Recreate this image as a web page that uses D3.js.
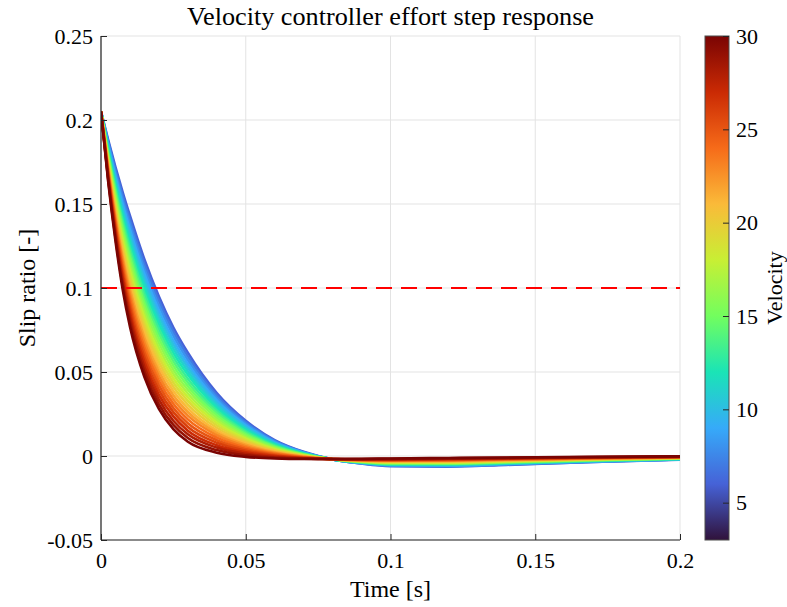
<!DOCTYPE html>
<html>
<head>
<meta charset="utf-8">
<script src="https://cdn.jsdelivr.net/npm/d3@7"></script>
<style>
  html, body { margin: 0; padding: 0; background: #ffffff; }
  svg { display: block; }
  text { font-family: "Liberation Serif", "Times New Roman", serif; fill: #000; }
</style>
</head>
<body>
<svg id="chart" width="787" height="607"></svg>
<script>
// ---------------- data ----------------
const title = "Velocity controller effort step response";
const xLabel = "Time [s]";
const yLabel = "Slip ratio [-]";
const cLabel = "Velocity";

const xTicks = [0, 0.05, 0.1, 0.15, 0.2];
const xTickLabels = ["0", "0.05", "0.1", "0.15", "0.2"];
const yTicks = [-0.05, 0, 0.05, 0.1, 0.15, 0.2, 0.25];
const yTickLabels = ["-0.05", "0", "0.05", "0.1", "0.15", "0.2", "0.25"];
const cTicks = [5, 10, 15, 20, 25, 30];
const cTickLabels = ["5", "10", "15", "20", "25", "30"];

const thresholdSlip = 0.1;
const colorRange = [3, 30];

// time samples [s]
const time = [0, 0.0025, 0.005, 0.0075, 0.01, 0.015, 0.02, 0.025, 0.03, 0.04,
              0.05, 0.06, 0.07, 0.08, 0.09, 0.1, 0.12, 0.14, 0.17, 0.2];

// velocities of each response curve (drawn in this order)
const velocities = [6, 7, 8, 9, 10, 11, 12, 13, 14, 15, 16, 17, 18, 19, 20,
                    21, 22, 23, 24, 25, 26, 27, 28, 29, 30];

// slip ratio response, one row per velocity (same order as velocities)
const slip = [
  [0.205,0.188,0.172,0.157,0.143,0.117,0.095,0.0765,0.0615,0.0375,0.021,0.0095,0.0025,-0.002,-0.0045,-0.006,-0.0063,-0.0053,-0.0036,-0.0022],
  [0.205,0.187,0.1702,0.1546,0.1403,0.1141,0.0922,0.074,0.0593,0.036,0.0201,0.009,0.0023,-0.002,-0.0044,-0.0058,-0.0061,-0.0051,-0.0035,-0.0021],
  [0.205,0.1859,0.1683,0.1522,0.1375,0.1112,0.0894,0.0715,0.0571,0.0345,0.0192,0.0086,0.0021,-0.002,-0.0043,-0.0056,-0.0059,-0.0049,-0.0033,-0.002],
  [0.205,0.1849,0.1665,0.1498,0.1348,0.1083,0.0866,0.0689,0.0549,0.0331,0.0183,0.0081,0.002,-0.002,-0.0042,-0.0054,-0.0057,-0.0047,-0.0032,-0.002],
  [0.205,0.1838,0.1647,0.1473,0.132,0.1053,0.0838,0.0664,0.0527,0.0316,0.0174,0.0077,0.0018,-0.002,-0.004,-0.0053,-0.0055,-0.0046,-0.0031,-0.0019],
  [0.205,0.1828,0.1628,0.1449,0.1293,0.1024,0.081,0.0639,0.0505,0.0301,0.0165,0.0072,0.0016,-0.002,-0.0039,-0.0051,-0.0052,-0.0044,-0.003,-0.0018],
  [0.205,0.1818,0.161,0.1425,0.1265,0.0995,0.0783,0.0614,0.0483,0.0286,0.0156,0.0068,0.0014,-0.002,-0.0038,-0.0049,-0.005,-0.0042,-0.0028,-0.0017],
  [0.205,0.1807,0.1592,0.1401,0.1238,0.0966,0.0755,0.0589,0.046,0.0271,0.0147,0.0063,0.0012,-0.0019,-0.0037,-0.0047,-0.0048,-0.004,-0.0027,-0.0016],
  [0.205,0.1797,0.1573,0.1377,0.121,0.0937,0.0727,0.0563,0.0438,0.0257,0.0138,0.0058,0.0011,-0.0019,-0.0036,-0.0045,-0.0046,-0.0038,-0.0026,-0.0015],
  [0.205,0.1786,0.1555,0.1353,0.1183,0.0908,0.0699,0.0538,0.0416,0.0242,0.0129,0.0054,0.0009,-0.0019,-0.0035,-0.0043,-0.0044,-0.0036,-0.0024,-0.0015],
  [0.205,0.1776,0.1537,0.1328,0.1155,0.0878,0.0671,0.0513,0.0394,0.0227,0.012,0.0049,0.0007,-0.0019,-0.0033,-0.0041,-0.0042,-0.0035,-0.0023,-0.0014],
  [0.205,0.1765,0.1518,0.1304,0.1128,0.0849,0.0643,0.0488,0.0372,0.0212,0.0111,0.0045,0.0005,-0.0019,-0.0032,-0.0039,-0.004,-0.0033,-0.0022,-0.0013],
  [0.205,0.1755,0.15,0.128,0.11,0.082,0.0615,0.0463,0.035,0.0198,0.0103,0.004,0.0004,-0.0019,-0.0031,-0.0038,-0.0038,-0.0031,-0.0021,-0.0012],
  [0.205,0.1745,0.1482,0.1256,0.1073,0.0791,0.0587,0.0437,0.0328,0.0183,0.0094,0.0035,0.0002,-0.0019,-0.003,-0.0036,-0.0035,-0.0029,-0.0019,-0.0011],
  [0.205,0.1734,0.1463,0.1232,0.1045,0.0762,0.0559,0.0412,0.0306,0.0168,0.0085,0.0031,0.0,-0.0019,-0.0029,-0.0034,-0.0033,-0.0027,-0.0018,-0.001],
  [0.205,0.1724,0.1445,0.1208,0.1018,0.0733,0.0531,0.0387,0.0284,0.0153,0.0076,0.0026,-0.0002,-0.0019,-0.0028,-0.0032,-0.0031,-0.0025,-0.0017,-0.001],
  [0.205,0.1713,0.1427,0.1183,0.099,0.0703,0.0503,0.0362,0.0262,0.0138,0.0067,0.0022,-0.0004,-0.0019,-0.0026,-0.003,-0.0029,-0.0024,-0.0015,-0.0009],
  [0.205,0.1703,0.1408,0.1159,0.0963,0.0674,0.0475,0.0336,0.024,0.0124,0.0058,0.0017,-0.0005,-0.0019,-0.0025,-0.0028,-0.0027,-0.0022,-0.0014,-0.0008],
  [0.205,0.1693,0.139,0.1135,0.0935,0.0645,0.0448,0.0311,0.0218,0.0109,0.0049,0.0013,-0.0007,-0.0019,-0.0024,-0.0026,-0.0025,-0.002,-0.0013,-0.0007],
  [0.205,0.1682,0.1372,0.1111,0.0908,0.0616,0.042,0.0286,0.0195,0.0094,0.004,0.0008,-0.0009,-0.0018,-0.0023,-0.0024,-0.0023,-0.0018,-0.0011,-0.0006],
  [0.205,0.1672,0.1353,0.1087,0.088,0.0587,0.0392,0.0261,0.0173,0.0079,0.0031,0.0003,-0.0011,-0.0018,-0.0022,-0.0023,-0.0021,-0.0016,-0.001,-0.0005],
  [0.205,0.1661,0.1335,0.1063,0.0853,0.0558,0.0364,0.0236,0.0151,0.0064,0.0022,-0.0001,-0.0013,-0.0018,-0.0021,-0.0021,-0.0018,-0.0015,-0.0009,-0.0005],
  [0.205,0.1651,0.1317,0.1038,0.0825,0.0528,0.0336,0.021,0.0129,0.005,0.0013,-0.0006,-0.0014,-0.0018,-0.0019,-0.0019,-0.0016,-0.0013,-0.0008,-0.0004],
  [0.205,0.164,0.1298,0.1014,0.0798,0.0499,0.0308,0.0185,0.0107,0.0035,0.0004,-0.001,-0.0016,-0.0018,-0.0018,-0.0017,-0.0014,-0.0011,-0.0006,-0.0003],
  [0.205,0.163,0.128,0.099,0.077,0.047,0.028,0.016,0.0085,0.002,-0.0005,-0.0015,-0.0018,-0.0018,-0.0017,-0.0015,-0.0012,-0.0009,-0.0005,-0.0002]
];

// turbo colormap stops (evenly spaced 0..1)
const turboStops = ["#30123b", "#4662d7", "#36aaf9", "#1ae4b6", "#72fe5e",
                    "#c8ef34", "#faba39", "#f66b19", "#ca2a04", "#7a0403"];

// ---------------- layout ----------------
const plot = { left: 101, right: 680, top: 36, bottom: 540 };
const cbar = { left: 705, right: 729, top: 36, bottom: 540 };

const svg = d3.select("#chart");

const x = d3.scaleLinear().domain([0, 0.2]).range([plot.left, plot.right]);
const y = d3.scaleLinear().domain([-0.05, 0.25]).range([plot.bottom, plot.top]);

const norm = d3.scaleLinear().domain(colorRange).range([0, 1]).clamp(true);
const turbo = d3.scaleLinear()
  .domain(turboStops.map((_, i) => i / (turboStops.length - 1)))
  .range(turboStops)
  .interpolate(d3.interpolateRgb);
const color = v => turbo(norm(v));

// grid
const gridColor = "#e3e3e3";
const grid = svg.append("g");
grid.selectAll("line.gx").data(xTicks).join("line")
  .attr("x1", d => x(d)).attr("x2", d => x(d))
  .attr("y1", plot.top).attr("y2", plot.bottom)
  .attr("stroke", gridColor).attr("stroke-width", 1);
grid.selectAll("line.gy").data(yTicks).join("line")
  .attr("x1", plot.left).attr("x2", plot.right)
  .attr("y1", d => y(d)).attr("y2", d => y(d))
  .attr("stroke", gridColor).attr("stroke-width", 1);

// curves
const clipId = "plotclip";
svg.append("clipPath").attr("id", clipId).append("rect")
  .attr("x", plot.left).attr("y", plot.top)
  .attr("width", plot.right - plot.left).attr("height", plot.bottom - plot.top);

const line = d3.line()
  .x((d, i) => x(time[i]))
  .y(d => y(d))
  .curve(d3.curveMonotoneX);

const curves = svg.append("g").attr("clip-path", `url(#${clipId})`);
curves.selectAll("path").data(velocities).join("path")
  .attr("d", (v, i) => line(slip[i]))
  .attr("fill", "none")
  .attr("stroke", v => color(v))
  .attr("stroke-width", 2.6)
  .attr("stroke-linejoin", "round");

// threshold
svg.append("line")
  .attr("x1", x(0)).attr("x2", x(0.2))
  .attr("y1", y(thresholdSlip)).attr("y2", y(thresholdSlip))
  .attr("stroke", "#ff0000").attr("stroke-width", 2)
  .attr("stroke-dasharray", "16,9");

// axes
const axisColor = "#262626";
const fontSize = 22;

const yAxis = d3.axisLeft(y).tickValues(yTicks)
  .tickFormat((d, i) => yTickLabels[i]).tickSize(-6).tickPadding(8);
const gy = svg.append("g").attr("transform", `translate(${plot.left},0)`).call(yAxis);

const xAxis = d3.axisBottom(x).tickValues(xTicks)
  .tickFormat((d, i) => xTickLabels[i]).tickSize(-6).tickPadding(12);
const gx = svg.append("g").attr("transform", `translate(0,${plot.bottom})`).call(xAxis);

[gx, gy].forEach(g => {
  g.select(".domain").attr("stroke", axisColor).attr("stroke-width", 1.2);
  g.selectAll(".tick line").attr("stroke", axisColor).attr("stroke-width", 1);
  g.selectAll(".tick text")
    .attr("font-family", "Liberation Serif, serif")
    .attr("font-size", fontSize).attr("fill", "#000");
});
gy.select(".domain").attr("d", `M0,${plot.bottom}V${plot.top}`);
gx.select(".domain").attr("d", `M${plot.left},0H${plot.right}`);

// colorbar
const grad = svg.append("defs").append("linearGradient")
  .attr("id", "cgrad").attr("x1", 0).attr("y1", 1).attr("x2", 0).attr("y2", 0);
grad.selectAll("stop").data(turboStops).join("stop")
  .attr("offset", (d, i) => i / (turboStops.length - 1))
  .attr("stop-color", d => d);

svg.append("rect")
  .attr("x", cbar.left).attr("y", cbar.top)
  .attr("width", cbar.right - cbar.left).attr("height", cbar.bottom - cbar.top)
  .attr("fill", "url(#cgrad)")
  .attr("stroke", "#4d4d4d").attr("stroke-width", 1);

const c = d3.scaleLinear().domain(colorRange).range([cbar.bottom, cbar.top]);
const cAxis = d3.axisRight(c).tickValues(cTicks)
  .tickFormat((d, i) => cTickLabels[i]).tickSize(-6).tickPadding(7);
const gc = svg.append("g").attr("transform", `translate(${cbar.right},0)`).call(cAxis);
gc.select(".domain").remove();
gc.selectAll(".tick line").attr("stroke", axisColor).attr("stroke-width", 1);
gc.selectAll(".tick text")
  .attr("font-family", "Liberation Serif, serif")
  .attr("font-size", fontSize).attr("fill", "#000");

// titles
svg.append("text")
  .attr("x", (plot.left + plot.right) / 2).attr("y", 25)
  .attr("text-anchor", "middle").attr("font-size", 25)
  .attr("textLength", 407).attr("lengthAdjust", "spacingAndGlyphs")
  .text(title);

svg.append("text")
  .attr("x", (plot.left + plot.right) / 2).attr("y", 597)
  .attr("text-anchor", "middle").attr("font-size", 24)
  .text(xLabel);

svg.append("text")
  .attr("transform", `translate(35,${(plot.top + plot.bottom) / 2}) rotate(-90)`)
  .attr("text-anchor", "middle").attr("font-size", 24)
  .text(yLabel);

svg.append("text")
  .attr("transform", `translate(782,${(cbar.top + cbar.bottom) / 2}) rotate(-90)`)
  .attr("text-anchor", "middle").attr("font-size", 22)
  .text(cLabel);
</script>
</body>
</html>
